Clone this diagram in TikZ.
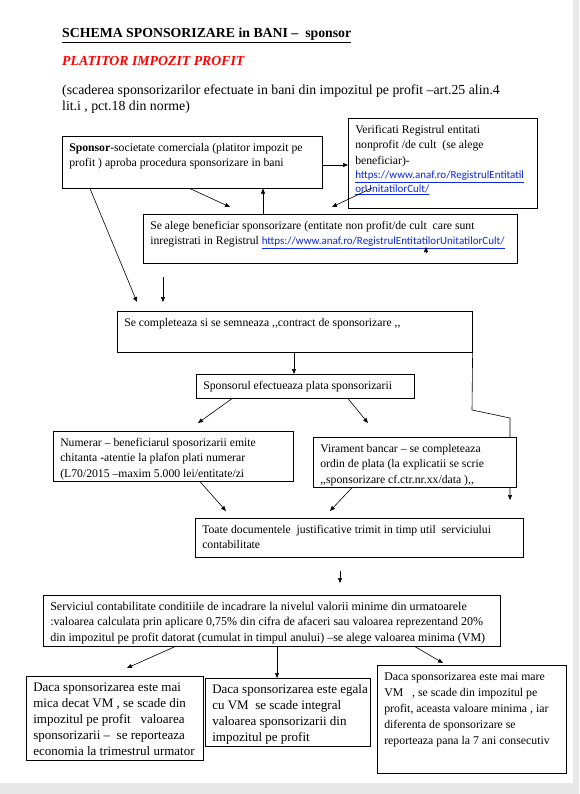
\documentclass[tikz,border=0pt]{standalone}
\usepackage{fontspec}
\setmainfont{Liberation Serif}
\newfontfamily\linkfont{Carlito}
\usetikzlibrary{arrows.meta,backgrounds}

\definecolor{linkblue}{RGB}{10,40,230}
\definecolor{pagegray}{RGB}{232,232,232}

\newcommand{\lines}[1]{\begin{tabular}[t]{@{}l@{}}#1\end{tabular}}
\newcommand{\lnk}[1]{{\linkfont\fontsize{11}{13}\selectfont\color{linkblue}\underline{#1}}}
\newcommand{\boxtxt}[3]{\parbox[c][#2pt][t]{#1pt}{\hspace*{7pt}\lines{\rule{0pt}{15pt}#3}}}

\begin{document}
\begin{tikzpicture}[x=1pt,y=-1pt,
    box/.style={draw,fill=white,anchor=north west,inner sep=0pt,line width=0.6pt,
        font=\fontsize{11.7}{15.5}\selectfont},
    bigbox/.style={box,font=\fontsize{13}{16}\selectfont},
    head/.style={anchor=base west,inner sep=0pt,font=\fontsize{13.8}{16}\selectfont},
    arr/.style={-{Triangle[length=5pt,width=4pt]},line width=0.6pt}]
    \useasboundingbox (0,0) rectangle (579,794);
    \fill[pagegray] (573,0) rectangle (579,794);
    \fill[pagegray] (0,783) rectangle (579,794);

    \node[head,font=\fontsize{13.8}{16}\selectfont\bfseries] (title) at (62,38)
        {\underline{SCHEMA SPONSORIZARE in BANI –\ \ sponsor}};
    \node[head,font=\fontsize{13.8}{16}\selectfont\bfseries\itshape,text=red] (sub) at (62,66)
        {PLATITOR IMPOZIT PROFIT};
    \node[head] (intro) at (62,95)
        {\lines{(scaderea sponsorizarilor efectuate in bani din impozitul pe profit –art.25 alin.4\\
        lit.i , pct.18 din norme)}};

    \node[box] (sponsor) at (62,136) {\boxtxt{260}{52}{\textbf{Sponsor}-societate comerciala (platitor impozit pe\\
        profit ) aproba procedura sponsorizare in bani}};
    \node[box] (verif) at (348,118) {\boxtxt{189}{90}{Verificati Registrul entitati\\
        nonprofit /de cult\ \ (se alege\\beneficiar)-\\[-1pt]
        \lnk{https://www.anaf.ro/RegistrulEntitatil}\\[-2pt]\lnk{orUnitatilorCult/}}};
    \node[box] (benef) at (143,214) {\boxtxt{374}{49}{Se alege beneficiar sponsorizare (entitate non profit/de cult\ \ care sunt\\
        inregistrati in Registrul \lnk{https://www.anaf.ro/RegistrulEntitatilorUnitatilorCult/}}};
    \node[box] (contract) at (117,311) {\boxtxt{355}{41}{Se completeaza si se semneaza {,}{,}contract de sponsorizare {,}{,}}};
    \node[box] (plata) at (196,374) {\boxtxt{218}{24}{Sponsorul efectueaza plata sponsorizarii}};
    \node[box] (numerar) at (53,431) {\boxtxt{240}{50}{Numerar – beneficiarul sposorizarii emite\\
        chitanta -atentie la plafon plati numerar\\(L70/2015 –maxim 5.000 lei/entitate/zi}};
    \node[box] (virament) at (313,437) {\boxtxt{203}{50}{Virament bancar – se completeaza\\
        ordin de plata (la explicatii se scrie\\{,}{,}sponsorizare cf.ctr.nr.xx/data ){,}{,}}};
    \node[box] (toate) at (195,518) {\boxtxt{328}{39}{Toate documentele\ \ justificative trimit in timp util\ \ serviciului\\
        contabilitate}};
    \node[box,font=\fontsize{12}{15.5}\selectfont] (serv) at (43,595) {\boxtxt{457}{51}{Serviciul contabilitate conditiile de incadrare la nivelul valorii minime din urmatoarele\\
        :valoarea calculata prin aplicare 0,75\% din cifra de afaceri sau valoarea reprezentand 20\%\\
        din impozitul pe profit datorat (cumulat in timpul anului) –se alege valoarea minima (VM)}};
    \node[bigbox] (mic) at (26,676) {\boxtxt{177}{84}{Daca sponsorizarea este mai\\
        mica decat VM , se scade din\\impozitul pe profit\ \ \ valoarea\\
        sponsorizarii –\ \ se reporteaza\\economia la trimestrul urmator}};
    \node[bigbox] (egal) at (205,678) {\boxtxt{165}{68}{Daca sponsorizarea este egala\\
        cu VM\ \ se scade integral\\valoarea sponsorizarii din\\impozitul pe profit}};
    \node[bigbox,font=\fontsize{11.8}{16}\selectfont] (mare) at (377,665) {\boxtxt{189}{108}{Daca sponsorizarea este mai mare\\
        VM\ \ \ , se scade din impozitul pe\\profit, aceasta valoare minima , iar\\
        diferenta de sponsorizare se\\reporteaza pana la 7 ani consecutiv}};

    % free ends
    \coordinate (v1) at (372,188);
    \coordinate (e1) at (230,207);
    \coordinate (e2) at (332,207);
    \coordinate (e3) at (137,302);
    \coordinate (s4) at (163,277);
    \coordinate (e4) at (163,302);
    \coordinate (e5) at (198,423);
    \coordinate (e6) at (368,423);
    \coordinate (e7) at (226,511);
    \coordinate (e8) at (330,511);
    \coordinate (s9) at (340,571);
    \coordinate (e9) at (340,583);
    \coordinate (e10) at (127,668);
    \coordinate (e11) at (443,663);
    \coordinate (e12) at (510,500);

    \draw[arr] (sponsor.east |- 0,165) -- (verif.west |- 0,165);
    \draw[arr] (sponsor.south -| 190,0) -- (e1);
    \draw[arr] (benef.north -| 263,0) -- (sponsor.south -| 263,0);
    \draw[arr] (v1) -- (e2);
    \draw[arr] (sponsor.south -| 90,0) -- (e3);
    \draw[arr] (s4) -- (e4);
    \draw[arr] (426,252) -- (426,247);
    \draw[arr] (contract.south -| 294,0) -- (plata.north -| 294,0);
    \begin{scope}[on background layer]
        \draw[arr] (contract.south east) -- (472,410) -- (510,418) -- (e12);
    \end{scope}
    \draw[arr] (plata.south -| 232,0) -- (e5);
    \draw[arr] (plata.south -| 348,0) -- (e6);
    \draw[arr] (numerar.south -| 200,0) -- (e7);
    \draw[arr] (virament.south -| 352,0) -- (e8);
    \draw[arr] (s9) -- (e9);
    \draw[arr] (serv.south -| 175,0) -- (e10);
    \draw[arr] (serv.south -| 277,0) -- (egal.north -| 277,0);
    \draw[arr] (serv.south -| 415,0) -- (e11);
\end{tikzpicture}
\end{document}
